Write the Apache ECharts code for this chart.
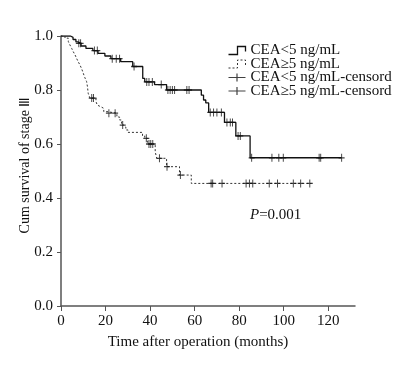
<!DOCTYPE html>
<html>
<head>
<meta charset="utf-8">
<script src="https://cdn.jsdelivr.net/npm/echarts@6/dist/echarts.min.js"></script>
<style>html,body{margin:0;padding:0;background:#fff}#c{width:413px;height:366px}</style>
</head>
<body>
<div id="c"></div>
<script>
// ---- data ----
var seriesNames = ['CEA<5 ng/mL', 'CEA\u22655 ng/mL', 'CEA<5 ng/mL-censord', 'CEA\u22655 ng/mL-censord'];

var lowTime = [0, 4.3, 5.4, 6.7, 7.6, 9, 11.2, 14.3, 16.6, 19.7, 22.4, 26.8, 32.2, 36.7, 37.6, 42, 47.4, 63, 64, 65, 66.3, 73.4, 78.5, 84.9, 126];
var lowSurv = [1.0, 0.995, 0.987, 0.978, 0.973, 0.963, 0.954, 0.946, 0.936, 0.926, 0.916, 0.905, 0.887, 0.843, 0.830, 0.820, 0.800, 0.781, 0.763, 0.752, 0.717, 0.680, 0.630, 0.549, 0.549];

var highTime = [0, 1.8, 3.3, 4.0, 4.8, 5.5, 6.3, 7.0, 7.7, 8.5, 9.3, 10.0, 10.7, 11.5, 11.9, 12.2, 13.0, 15.7, 16.3, 17.0, 17.9, 19.2, 20.6, 25.1, 26.3, 27.2, 28.2, 29.1, 30.1, 36.6, 37.6, 38.9, 42.3, 43.0, 47.4, 53.2, 58.5, 112.4];
var highSurv = [1.0, 0.992, 0.979, 0.967, 0.954, 0.942, 0.930, 0.917, 0.905, 0.893, 0.878, 0.862, 0.846, 0.831, 0.811, 0.788, 0.770, 0.757, 0.744, 0.738, 0.732, 0.720, 0.714, 0.700, 0.689, 0.670, 0.663, 0.652, 0.643, 0.630, 0.621, 0.600, 0.571, 0.547, 0.516, 0.485, 0.454, 0.454];

var lowCensorTime = [8, 8.8, 15, 16.3, 23, 24.8, 26.3, 32.8, 38.5, 39.5, 41, 45, 48, 49, 50, 51, 56.5, 57.5, 67, 68.5, 70, 72, 74.5, 76, 77, 79.5, 80.5, 85.6, 94.7, 97.8, 99.8, 115.9, 116.6, 126];
var lowCensorSurv = [0.973, 0.973, 0.946, 0.946, 0.916, 0.916, 0.916, 0.887, 0.830, 0.830, 0.830, 0.820, 0.800, 0.800, 0.800, 0.800, 0.800, 0.800, 0.717, 0.717, 0.717, 0.717, 0.680, 0.680, 0.680, 0.630, 0.630, 0.549, 0.549, 0.549, 0.549, 0.549, 0.549, 0.549];

var highCensorTime = [13.8, 14.6, 21.5, 24.3, 27.7, 38.3, 39.5, 40.3, 41.2, 44.2, 47.6, 53.6, 67.4, 68.1, 72.3, 83.1, 84.6, 86.1, 93.5, 97.2, 104.3, 107.6, 111.7];
var highCensorSurv = [0.770, 0.770, 0.714, 0.714, 0.670, 0.621, 0.600, 0.600, 0.600, 0.547, 0.516, 0.485, 0.454, 0.454, 0.454, 0.454, 0.454, 0.454, 0.454, 0.454, 0.454, 0.454, 0.454];

var xTicks = [0, 20, 40, 60, 80, 100, 120];
var pText = '=0.001';

function pairs(a, b) { return a.map(function (v, i) { return [v, b[i]]; }); }

var FONT = "'Liberation Serif','Times New Roman',serif";
var plus = 'path://M0,5L10,5M5,0L5,10';

var chart = echarts.init(document.getElementById('c'), null, {renderer: 'canvas'});
chart.setOption({
  animation: false,
  backgroundColor: '#fff',
  grid: {left: 61, right: 58, top: 36, bottom: 60, containLabel: false},
  xAxis: {
    type: 'value', min: 0, max: 132,
    name: 'Time after operation (months)', nameLocation: 'middle', nameGap: 29,
    nameMoveOverlap: false,
    nameTextStyle: {fontFamily: FONT, fontSize: 15, color: '#111', padding: [0, 20, 0, 0]},
    axisLine: {show: true, onZero: false, lineStyle: {color: '#555', width: 1.5}},
    axisTick: {show: true, length: 5, customValues: xTicks, lineStyle: {color: '#555'}},
    axisLabel: {customValues: xTicks, fontFamily: FONT, fontSize: 15, color: '#111', margin: 8},
    splitLine: {show: false}
  },
  yAxis: {
    type: 'value', min: 0, max: 1, interval: 0.2,
    name: 'Cum survival of stage \u2162', nameLocation: 'middle', nameGap: 29,
    nameMoveOverlap: false,
    nameTextStyle: {fontFamily: FONT, fontSize: 14, color: '#111', padding: [0, 0, 0, 12]},
    axisLine: {show: true, onZero: false, lineStyle: {color: '#555', width: 1.5}},
    axisTick: {show: true, length: 4, lineStyle: {color: '#555'}},
    axisLabel: {fontFamily: FONT, fontSize: 15, color: '#111', margin: 8,
      formatter: function (v) { return v.toFixed(1); }},
    splitLine: {show: false}
  },
  legend: {
    orient: 'vertical', left: 226, top: 43, itemWidth: 17, itemHeight: 9, itemGap: -1.5,
    padding: 0,
    textStyle: {fontFamily: FONT, fontSize: 15, color: '#111', lineHeight: 13},
    selectedMode: false,
    data: [
      {name: seriesNames[0], icon: 'path://M0,8L9,8L9,0L17,0L17,5',
        itemStyle: {color: 'none', borderColor: '#111', borderWidth: 1.3}},
      {name: seriesNames[1], icon: 'path://M0,8L9,8L9,0L17,0L17,5',
        itemStyle: {color: 'none', borderColor: '#333', borderWidth: 1, borderType: [2, 2]}},
      {name: seriesNames[2], icon: 'path://M0,4L17,4M8.5,0L8.5,8',
        itemStyle: {color: 'none', borderColor: '#111', borderWidth: 1.2}},
      {name: seriesNames[3], icon: 'path://M0,4L17,4M8.5,0L8.5,8',
        itemStyle: {color: 'none', borderColor: '#111', borderWidth: 1.2}}
    ]
  },
  graphic: [{
    type: 'text', left: 250, top: 208,
    style: {text: '{i|P}' + pText, font: '15px ' + FONT, fill: '#111',
      rich: {i: {fontStyle: 'italic', fontFamily: FONT, fontSize: 15, fill: '#111'}}}
  }],
  series: [
    {name: seriesNames[0], type: 'line', step: 'end', showSymbol: false, symbol: 'none',
      data: pairs(lowTime, lowSurv), lineStyle: {color: '#111', width: 1.3}, itemStyle: {color: '#111'}, z: 3},
    {name: seriesNames[1], type: 'line', step: 'end', showSymbol: false, symbol: 'none',
      data: pairs(highTime, highSurv), lineStyle: {color: '#333', width: 1, type: [2, 2]}, itemStyle: {color: '#333'}, z: 3},
    {name: seriesNames[2], type: 'scatter', symbol: plus, symbolSize: [6, 8],
      data: pairs(lowCensorTime, lowCensorSurv),
      itemStyle: {color: 'none', borderColor: '#111', borderWidth: 1.1}, z: 4},
    {name: seriesNames[3], type: 'scatter', symbol: plus, symbolSize: [6, 8],
      data: pairs(highCensorTime, highCensorSurv),
      itemStyle: {color: 'none', borderColor: '#111', borderWidth: 1.1}, z: 4}
  ]
});
</script>
</body>
</html>
